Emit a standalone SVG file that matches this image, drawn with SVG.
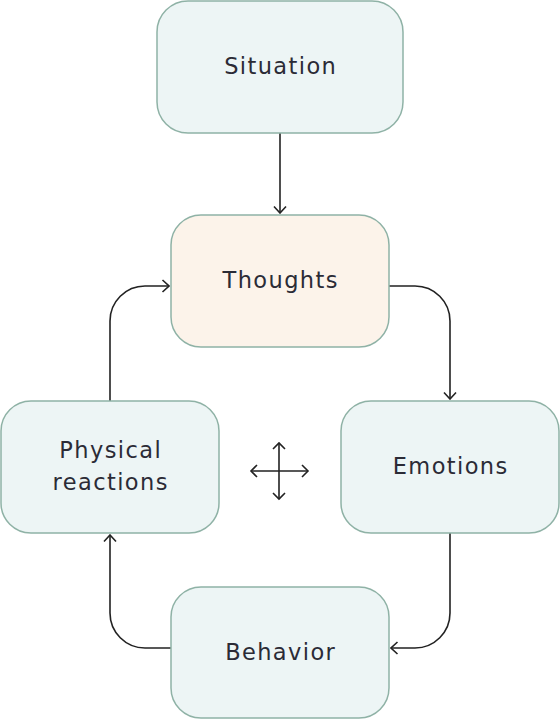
<svg xmlns="http://www.w3.org/2000/svg" width="560" height="720" viewBox="0 0 560 720">
<style>
.box{fill:#edf5f5;stroke:#8fb2a6;stroke-width:1.5}
.warm{fill:#fcf3ea}
.lbl{font-family:"DejaVu Sans",Inter,sans-serif;font-size:22.5px;letter-spacing:1.4px;fill:#2b2b36;text-anchor:middle;dominant-baseline:central}
.con{fill:none;stroke:#222;stroke-width:1.6}
</style>
<defs>
<marker id="ah" viewBox="0 0 14 14" refX="13" refY="7" markerWidth="14" markerHeight="14" markerUnits="userSpaceOnUse" orient="auto">
<path d="M6.5,1 L13,7 L6.5,13" fill="none" stroke="#222" stroke-width="1.6"/>
</marker>
</defs>
<rect width="560" height="720" fill="#fff"/>
<g id="connectors">
<path class="con" d="M280,133 V213" marker-end="url(#ah)"/>
<path class="con" d="M389,286 H415 A35,35 0 0 1 450,321 V399" marker-end="url(#ah)"/>
<path class="con" d="M450,533 V613 A35,35 0 0 1 415,648 H391" marker-end="url(#ah)"/>
<path class="con" d="M171,648 H145 A35,35 0 0 1 110,613 V535" marker-end="url(#ah)"/>
<path class="con" d="M110,401 V321 A35,35 0 0 1 145,286 H169" marker-end="url(#ah)"/>
</g>
<g id="situation"><rect class="box" x="157" y="1" width="246" height="132" rx="31"/><text class="lbl" x="280.7" y="66">Situation</text></g>
<g id="thoughts"><rect class="box warm" x="171" y="215" width="218" height="132" rx="30"/><text class="lbl" x="280.7" y="280">Thoughts</text></g>
<g id="physical"><rect class="box" x="1" y="401" width="218" height="132" rx="30"/><text class="lbl" x="110.7" y="450">Physical</text><text class="lbl" x="110.7" y="482">reactions</text></g>
<g id="emotions"><rect class="box" x="341" y="401" width="218" height="132" rx="30"/><text class="lbl" x="450.7" y="466">Emotions</text></g>
<g id="behavior"><rect class="box" x="171" y="587" width="218" height="131" rx="30"/><text class="lbl" x="280.7" y="652">Behavior</text></g>
<g id="cross">
<path class="con" d="M251,471 H308 M279,443 V499"/>
<path class="con" d="M257,465 L251,471 L257,477 M302,465 L308,471 L302,477 M273,449 L279,443 L285,449 M273,493 L279,499 L285,493"/>
</g>
</svg>
